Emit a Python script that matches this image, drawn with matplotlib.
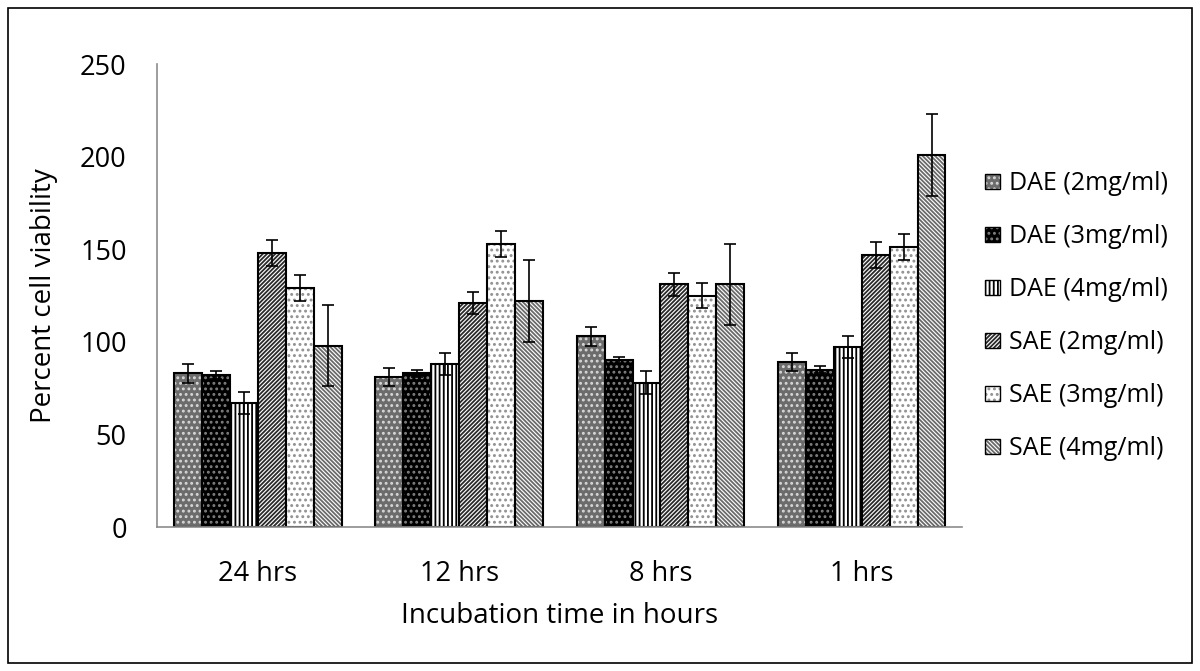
import numpy as np
import matplotlib.pyplot as plt
from matplotlib.patches import Rectangle

# Datos
grupos = ["24 hrs", "12 hrs", "8 hrs", "1 hrs"]
series = ["DAE (2mg/ml)", "DAE (3mg/ml)", "DAE (4mg/ml)",
          "SAE (2mg/ml)", "SAE (3mg/ml)", "SAE (4mg/ml)"]

dae2 = [83, 81, 103, 89]
dae3 = [82, 83, 90, 85]
dae4 = [67, 88, 78, 97]
sae2 = [148, 121, 131, 147]
sae3 = [129, 153, 125, 151]
sae4 = [98, 122, 131, 201]

err_dae2 = [5, 5, 5, 5]
err_dae3 = [2, 2, 2, 2]
err_dae4 = [6, 6, 6, 6]
err_sae2 = [7, 6, 6, 7]
err_sae3 = [7, 7, 7, 7]
err_sae4 = [22, 22, 22, 22]

valores = [dae2, dae3, dae4, sae2, sae3, sae4]
errores = [err_dae2, err_dae3, err_dae4, err_sae2, err_sae3, err_sae4]

# estilo de cada serie: (relleno, color de trama, trama)
estilos = [
    ("#6c6c6c", "#d8d8d8", "..."),
    ("#000000", "#808080", "..."),
    ("#ffffff", "#000000", "||||"),
    ("#ffffff", "#2a2a2a", "////////"),
    ("#ffffff", "#909090", "..."),
    ("#ffffff", "#6a6a6a", "\\\\\\\\\\\\\\\\"),
]

plt.rcParams['font.family'] = ['Open Sans', 'DejaVu Sans']
plt.rcParams['hatch.linewidth'] = 1.3

fig = plt.figure(figsize=(12, 6.71), dpi=100)
ax = fig.add_axes([0.131, 0.2146, 0.671, 0.69])

x = np.arange(len(grupos))
ancho = 0.1386
handles = []
for i, (vals, errs) in enumerate(zip(valores, errores)):
    pos = x + (i - 2.5) * ancho
    fc, hc, h = estilos[i]
    ax.bar(pos, vals, ancho, color=fc, edgecolor=hc, hatch=h, linewidth=0)
    ax.bar(pos, vals, ancho, fill=False, edgecolor="black", linewidth=1.5)
    ax.errorbar(pos, vals, yerr=errs, fmt="none", ecolor="black",
                elinewidth=1.2, capsize=4, capthick=1.2)
    relleno = Rectangle((0, 0), 1, 1, facecolor=fc, edgecolor=hc, hatch=h, linewidth=0)
    borde = Rectangle((0, 0), 1, 1, fill=False, edgecolor="black", linewidth=1.0)
    handles.append((relleno, borde))

ax.set_xlim(-0.5, 3.5)
ax.set_ylim(0, 250)
ax.set_yticks([0, 50, 100, 150, 200, 250])
ax.set_xticks(x)
ax.set_xticklabels(grupos)
ax.tick_params(length=0, labelsize=19.5)
ax.tick_params(axis="x", pad=24)
ax.tick_params(axis="y", pad=22)
for s in ["top", "right"]:
    ax.spines[s].set_visible(False)
for s in ["left", "bottom"]:
    ax.spines[s].set_color("#8c8c8c")
    ax.spines[s].set_linewidth(1.2)

ax.set_xlabel("Incubation time in hours", fontsize=20, labelpad=10)
ax.set_ylabel("Percent cell viability", fontsize=20, labelpad=16)

ax.legend(handles, series, loc="center left", bbox_to_anchor=(1.0, 0.455),
          frameon=False, fontsize=18, handlelength=0.6, handleheight=0.6,
          handletextpad=0.35, labelspacing=1.12)

# marco exterior
fig.patches.append(Rectangle((0.007, 0.012), 0.986, 0.976, transform=fig.transFigure,
                             fill=False, edgecolor="black", linewidth=1.2))

fig.savefig("out.png", dpi=100)
